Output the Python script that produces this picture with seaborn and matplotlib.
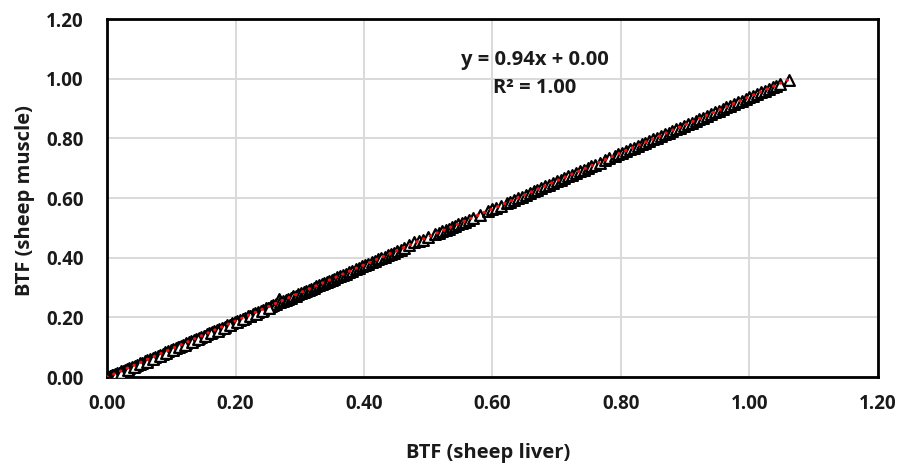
import numpy as np
import pandas as pd
import matplotlib
matplotlib.use("Agg")
import matplotlib.pyplot as plt
import seaborn as sns

# BTF values: sheep liver (x) vs sheep muscle (y)
liver = [
    0.000, 0.002, 0.004, 0.006, 0.008, 0.010, 0.013, 0.016, 0.019, 0.022,
    0.025, 0.028, 0.031, 0.035, 0.039, 0.043, 0.047, 0.051, 0.055, 0.059,
    0.063, 0.067, 0.071, 0.075, 0.079, 0.083, 0.087, 0.091, 0.095, 0.099,
    0.103, 0.107, 0.111, 0.115, 0.119, 0.123, 0.127, 0.131, 0.135, 0.139,
    0.143, 0.147, 0.151, 0.155, 0.159, 0.163, 0.167, 0.171, 0.175, 0.179,
    0.183, 0.187, 0.191, 0.195, 0.199, 0.203, 0.207, 0.211, 0.215, 0.219,
    0.223, 0.227, 0.231, 0.235, 0.239, 0.243, 0.247, 0.251, 0.255, 0.259,
    0.263, 0.267, 0.270, 0.274, 0.278, 0.282, 0.286, 0.290, 0.294, 0.298,
    0.302, 0.306, 0.310, 0.314, 0.318, 0.322, 0.326, 0.330, 0.334, 0.338,
    0.342, 0.346, 0.350, 0.354, 0.358,
    0.362, 0.367, 0.372, 0.377, 0.382, 0.387, 0.392, 0.397, 0.402, 0.407,
    0.412, 0.417, 0.422, 0.427, 0.432, 0.437, 0.442, 0.447, 0.452, 0.457,
    0.463, 0.470, 0.478, 0.486, 0.492, 0.500, 0.510, 0.516, 0.522, 0.527,
    0.532, 0.537, 0.542, 0.547, 0.552, 0.557, 0.563, 0.570, 0.580, 0.593,
    0.600, 0.606, 0.614, 0.622, 0.628, 0.634, 0.640, 0.646, 0.652, 0.658,
    0.664, 0.670, 0.676, 0.682, 0.688, 0.694, 0.700, 0.706, 0.712, 0.718,
    0.724, 0.730, 0.736, 0.742, 0.748, 0.754, 0.760, 0.767, 0.775, 0.781,
    0.790, 0.796, 0.802, 0.808, 0.814, 0.820, 0.826, 0.832, 0.838, 0.844,
    0.850, 0.856, 0.862, 0.868, 0.874, 0.880, 0.886, 0.892, 0.898, 0.904,
    0.910, 0.916, 0.922, 0.928, 0.934, 0.940, 0.946, 0.952, 0.958, 0.964,
    0.970, 0.976, 0.982, 0.988, 0.994, 1.000, 1.006, 1.012, 1.018, 1.024,
    1.030, 1.036, 1.042, 1.048, 1.062,
    0.012, 0.022, 0.032, 0.042, 0.052, 0.062, 0.072, 0.082, 0.092, 0.102,
    0.112, 0.122, 0.132, 0.142, 0.152, 0.162, 0.172, 0.182, 0.192, 0.202,
    0.212, 0.222, 0.232, 0.242, 0.252,
]
muscle = [
    0.000, 0.000, 0.002, 0.003, 0.006, 0.006, 0.010, 0.012, 0.015, 0.019,
    0.020, 0.024, 0.026, 0.031, 0.033, 0.038, 0.041, 0.046, 0.048, 0.053,
    0.056, 0.060, 0.064, 0.067, 0.072, 0.075, 0.078, 0.083, 0.086, 0.090,
    0.094, 0.097, 0.102, 0.105, 0.108, 0.113, 0.116, 0.120, 0.125, 0.127,
    0.132, 0.135, 0.139, 0.143, 0.146, 0.150, 0.155, 0.157, 0.162, 0.165,
    0.169, 0.173, 0.176, 0.181, 0.184, 0.188, 0.192, 0.195, 0.199, 0.203,
    0.206, 0.211, 0.214, 0.218, 0.222, 0.225, 0.230, 0.233, 0.237, 0.240,
    0.245, 0.262, 0.251, 0.255, 0.258, 0.262, 0.266, 0.270, 0.273, 0.277,
    0.281, 0.285, 0.288, 0.292, 0.296, 0.299, 0.304, 0.307, 0.311, 0.315,
    0.318, 0.323, 0.326, 0.330, 0.334,
    0.338, 0.343, 0.347, 0.352, 0.356, 0.362, 0.366, 0.371, 0.375, 0.380,
    0.385, 0.389, 0.394, 0.399, 0.403, 0.408, 0.413, 0.417, 0.422, 0.427,
    0.432, 0.443, 0.451, 0.455, 0.460, 0.468, 0.478, 0.483, 0.488, 0.493,
    0.497, 0.502, 0.507, 0.512, 0.516, 0.521, 0.527, 0.534, 0.544, 0.556,
    0.563, 0.568, 0.575, 0.582, 0.588, 0.593, 0.599, 0.605, 0.611, 0.616,
    0.622, 0.628, 0.633, 0.639, 0.645, 0.650, 0.656, 0.662, 0.667, 0.673,
    0.678, 0.684, 0.690, 0.695, 0.701, 0.707, 0.712, 0.719, 0.727, 0.733,
    0.741, 0.746, 0.752, 0.757, 0.763, 0.769, 0.774, 0.780, 0.786, 0.791,
    0.797, 0.802, 0.808, 0.814, 0.819, 0.825, 0.831, 0.836, 0.842, 0.848,
    0.853, 0.859, 0.864, 0.870, 0.876, 0.881, 0.887, 0.893, 0.898, 0.904,
    0.910, 0.915, 0.921, 0.926, 0.932, 0.938, 0.943, 0.949, 0.955, 0.960,
    0.966, 0.972, 0.977, 0.983, 0.996,
    0.004, 0.013, 0.023, 0.032, 0.042, 0.051, 0.061, 0.070, 0.080, 0.089,
    0.099, 0.108, 0.118, 0.127, 0.137, 0.146, 0.155, 0.165, 0.174, 0.184,
    0.193, 0.203, 0.212, 0.221, 0.231,
]

# Linear trendline as reported on the chart
slope = 0.94
intercept = 0.00
r_squared = 1.00

x_ticks = [0.00, 0.20, 0.40, 0.60, 0.80, 1.00, 1.20]
y_ticks = [0.00, 0.20, 0.40, 0.60, 0.80, 1.00, 1.20]

sns.set_theme(style="white")
plt.rcParams["font.family"] = ["Open Sans", "DejaVu Sans"]
plt.rcParams["font.weight"] = "bold"

text_color = "#1a1a1a"
tick_size = 13.5
label_size = 14.5

df = pd.DataFrame({"liver": liver, "muscle": muscle})

fig = plt.figure(figsize=(9.03, 4.65), dpi=100)
ax = fig.add_axes([0.1185, 0.1892, 0.8538, 0.7698])

ax.set_axisbelow(True)
ax.grid(True, color="#d9d9d9", linewidth=1.4)

sns.scatterplot(data=df, x="liver", y="muscle", marker="^", s=60,
                facecolor="white", edgecolor="black", linewidth=1.6, ax=ax,
                zorder=3)

line_x = np.array([min(liver), max(liver)])
ax.plot(line_x, slope * line_x + intercept, color="#f01010",
        linestyle=(0, (0.1, 2.2)), linewidth=2.3, dash_capstyle="round",
        zorder=4)

ax.set_xlim(0, 1.2)
ax.set_ylim(0, 1.2)
ax.set_xticks(x_ticks)
ax.set_yticks(y_ticks)
ax.set_xticklabels([f"{t:.2f}" for t in x_ticks], fontsize=tick_size,
                   fontweight="bold", color=text_color)
ax.set_yticklabels([f"{t:.2f}" for t in y_ticks], fontsize=tick_size,
                   fontweight="bold", color=text_color)
ax.tick_params(axis="x", length=0, pad=12)
ax.tick_params(axis="y", length=0, pad=17)

for side in ["top", "bottom", "left", "right"]:
    ax.spines[side].set_visible(True)
    ax.spines[side].set_color("black")
    ax.spines[side].set_linewidth(2.0)

ax.set_xlabel("BTF (sheep liver)", fontsize=label_size, fontweight="bold",
              color=text_color)
ax.set_ylabel("BTF (sheep muscle)", fontsize=label_size, fontweight="bold",
              color=text_color)
ax.xaxis.set_label_coords(0.494, -0.183)
ax.yaxis.set_label_coords(-0.093, 0.494)

ax.text(0.666, 1.063, f"y = {slope:.2f}x + {intercept:.2f}", ha="center",
        va="center", fontsize=label_size, fontweight="bold", color=text_color)
ax.text(0.666, 0.969, f"R² = {r_squared:.2f}", ha="center", va="center",
        fontsize=label_size, fontweight="bold", color=text_color)

fig.savefig("out.png", dpi=100)
